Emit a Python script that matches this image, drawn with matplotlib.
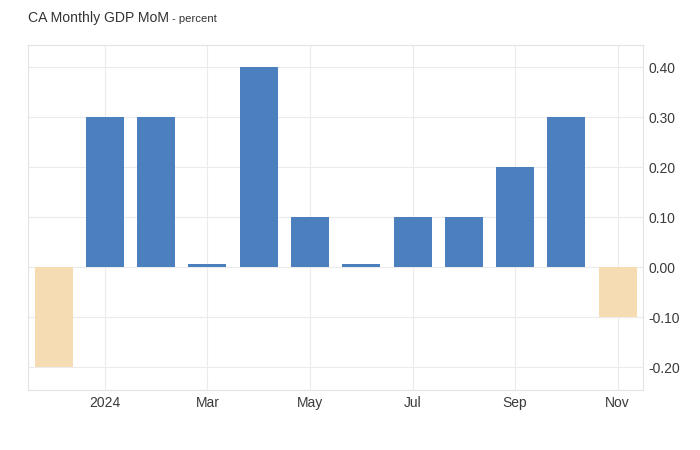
import matplotlib
matplotlib.use("Agg")
import matplotlib.pyplot as plt

months = ["Dec", "Jan", "Feb", "Mar", "Apr", "May", "Jun", "Jul", "Aug", "Sep", "Oct", "Nov"]
values = [-0.2, 0.3, 0.3, 0.0, 0.4, 0.1, 0.0, 0.1, 0.1, 0.2, 0.3, -0.1]
tick_idx = [1, 3, 5, 7, 9, 11]
tick_labels = ["2024", "Mar", "May", "Jul", "Sep", "Nov"]
yticks = [-0.2, -0.1, 0.0, 0.1, 0.2, 0.3, 0.4]

plt.rcParams['font.family'] = ['Liberation Sans', 'DejaVu Sans']

fig = plt.figure(figsize=(7, 4.5), dpi=100)
ax = fig.add_axes([0.04, 0.1333, 0.879, 0.7667])

pos_color = "#4C7FBE"
neg_color = "#F5DCB2"
min_len = 0.006
x = list(range(len(values)))
heights = [v if abs(v) >= min_len else min_len for v in values]
colors = [pos_color if v >= 0 else neg_color for v in values]
ax.bar(x, heights, width=0.74, color=colors, zorder=3)

ax.set_xlim(-0.5, len(values) - 0.5)
ax.set_ylim(-0.246, 0.444)
ax.set_xticks(tick_idx)
ax.set_xticklabels(tick_labels)
ax.set_yticks(yticks)
ax.set_yticklabels([f"{v:.2f}" for v in yticks])
ax.yaxis.tick_right()
ax.tick_params(axis='both', length=0, labelsize=10, colors="#3A3A3A")
ax.tick_params(axis='y', pad=3.5)
ax.tick_params(axis='x', pad=4.5)

ax.grid(True, color="#EBEBEB", linewidth=0.8, zorder=0)
for s in ax.spines.values():
    s.set_color("#E3E3E3")
    s.set_linewidth(0.8)

fig.text(28/700, 1 - 18/450, "CA Monthly GDP MoM", fontsize=10.1, color="#333333", va="center", ha="left")
fig.text(172/700, 1 - 19/450, "- percent", fontsize=8.2, color="#333333", va="center", ha="left")

fig.savefig("out.png", dpi=100)
